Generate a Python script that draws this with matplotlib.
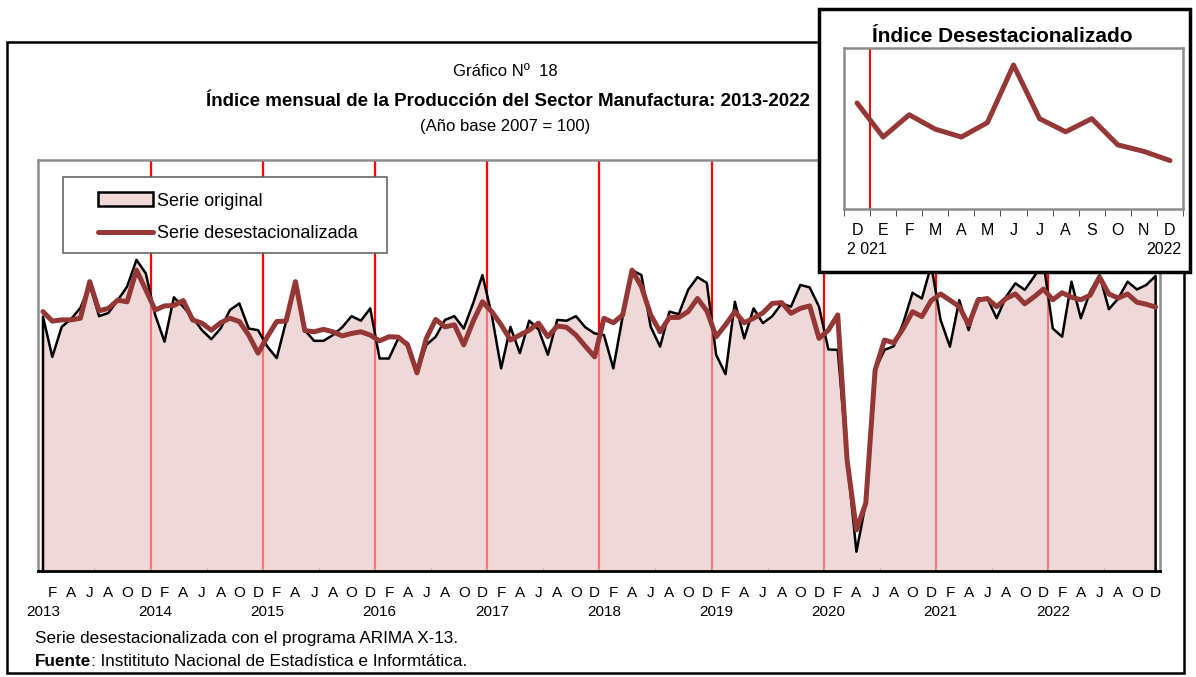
import matplotlib
matplotlib.use("Agg")
import matplotlib.pyplot as plt
import matplotlib.transforms as mtransforms
from matplotlib import font_manager
from matplotlib.patches import Rectangle, Patch
from matplotlib.lines import Line2D
import numpy as np

# monthly index, Jan 2013 .. Dec 2022
original = [
    101.9, 92.1, 99.4, 101.3, 104.0, 109.6, 102.0, 102.8, 105.9, 109.2, 115.7, 112.4,
    102.3, 95.8, 106.6, 104.3, 101.7, 98.6, 96.4, 99.0, 103.5, 105.1, 99.0, 98.6,
    94.6, 91.8, 100.7, 110.4, 98.6, 96.0, 96.0, 97.4, 99.3, 102.0, 100.9, 103.9,
    91.7, 91.7, 96.6, 95.5, 88.1, 95.0, 97.0, 101.1, 102.0, 99.0, 105.1, 112.0,
    102.3, 89.3, 99.4, 93.0, 100.9, 98.8, 92.6, 101.1, 100.9, 102.0, 99.3, 97.8,
    97.4, 89.3, 101.9, 113.2, 112.0, 99.4, 94.6, 103.1, 102.5, 108.4, 111.5, 110.1,
    92.6, 87.9, 105.5, 96.6, 103.9, 100.3, 102.0, 105.1, 104.3, 109.6, 109.0, 104.3,
    93.9, 93.8, 67.0, 44.7, 56.5, 88.9, 93.8, 94.7, 100.3, 107.7, 106.3, 114.4,
    101.1, 94.6, 105.9, 98.6, 106.3, 106.3, 101.5, 106.7, 110.0, 108.4, 111.6, 115.2,
    99.0, 97.0, 110.4, 101.5, 108.0, 112.0, 103.7, 106.3, 110.4, 108.5, 109.6, 111.8,
]
desest = [
    103.1, 100.8, 101.1, 101.1, 101.5, 110.4, 103.3, 103.9, 105.9, 105.5, 113.2, 108.4,
    103.5, 104.5, 104.6, 105.8, 101.1, 100.3, 98.6, 100.4, 101.5, 100.7, 97.4, 93.0,
    97.0, 100.7, 100.8, 110.4, 98.5, 98.2, 98.8, 98.2, 97.2, 97.8, 98.2, 97.4,
    96.0, 97.0, 96.9, 95.0, 88.2, 96.6, 101.2, 99.4, 99.9, 95.0, 100.7, 105.5,
    103.1, 99.9, 96.2, 97.4, 98.6, 100.3, 97.0, 99.6, 99.3, 97.4, 94.7, 92.1,
    101.5, 100.4, 102.3, 113.2, 109.2, 102.3, 98.2, 101.7, 101.7, 103.1, 106.3, 103.3,
    97.0, 99.9, 103.1, 100.4, 101.5, 102.8, 105.1, 105.3, 102.7, 103.9, 104.5, 96.6,
    98.6, 102.3, 67.0, 50.0, 56.5, 88.9, 96.2, 95.5, 99.0, 103.1, 101.9, 105.8,
    107.4, 105.9, 104.3, 99.9, 105.9, 106.3, 104.3, 106.3, 107.4, 105.0, 106.7, 108.6,
    106.0, 107.7, 106.6, 106.0, 107.1, 111.5, 107.4, 106.4, 107.4, 105.4, 104.9, 104.2,
]
years = list(range(2013, 2023))
month_letters = ["F", "A", "J", "A", "O", "D"]
inset_months = ["D", "E", "F", "M", "A", "M", "J", "J", "A", "S", "O", "N", "D"]

W, H = 1196, 677
DARK_RED = "#953735"
FILL = "#e6c2c0"

available = {f.name for f in font_manager.fontManager.ttflist}
SANS = "Liberation Sans"
NARROW = "Liberation Sans Narrow" if "Liberation Sans Narrow" in available else SANS
plt.rcParams["font.family"] = [SANS, "DejaVu Sans"]


def fx(px):
    return px / W


def fy(py):
    return 1 - py / H


fig = plt.figure(figsize=(W / 100, H / 100), dpi=100)

# outer frame of the whole chart
fig.patches.append(Rectangle((fx(7), fy(673)), fx(1184) - fx(7), fy(42) - fy(673),
                             transform=fig.transFigure, fill=False, ec="black", lw=1.8, zorder=0))

fig.text(fx(505), fy(72), "Gráfico Nº  18", ha="center", va="center", fontsize=12)
fig.text(fx(508), fy(101), "Índice mensual de la Producción del Sector Manufactura: 2013-2022",
         ha="center", va="center", fontsize=13.5, fontweight="bold", family=NARROW)
fig.text(fx(505), fy(126), "(Año base 2007 = 100)", ha="center", va="center", fontsize=12)

# main chart
ax = fig.add_axes([fx(38.3), fy(571), fx(1160.3) - fx(38.3), fy(160) - fy(571)])
x = np.arange(len(original))
ax.set_xlim(-0.5, len(original) - 0.5)
ax.set_ylim(40, 140)

for k in range(1, len(years)):
    ax.axvline(12 * k - 0.5, color="red", lw=1.6, zorder=1)

ax.fill_between(x, 40, original, color=FILL, alpha=0.62, lw=0, zorder=2)
ax.plot(np.r_[x[0], x, x[-1]], np.r_[40, original, 40], color="black", lw=1.8, zorder=3)
ax.plot(x, desest, color=DARK_RED, lw=3.6, solid_capstyle="round", zorder=4)

for side in ["top", "left", "right"]:
    ax.spines[side].set_color("#8c8c8c")
    ax.spines[side].set_linewidth(1.8)
ax.spines["bottom"].set_color("black")
ax.spines["bottom"].set_linewidth(2)
ax.set_yticks([])

tick_pos, tick_lab = [], []
for k in range(len(years)):
    for j, m in enumerate(month_letters):
        tick_pos.append(12 * k + 1 + 2 * j)
        tick_lab.append(m)
ax.set_xticks(tick_pos, tick_lab, family=NARROW, fontsize=11)
ax.tick_params(axis="x", which="major", length=0, pad=11)
ax.set_xticks(np.arange(5.5, len(original), 6), minor=True)
ax.tick_params(axis="x", which="minor", direction="in", length=3, color="#8c8c8c")

trans = mtransforms.blended_transform_factory(ax.transData, ax.transAxes)
for k, yr in enumerate(years):
    ax.text(12 * k, -0.1, str(yr), transform=trans, ha="center", va="center",
            family=NARROW, fontsize=11)

# legend
fig.patches.append(Rectangle((fx(63), fy(253)), fx(387) - fx(63), fy(177) - fy(253),
                             transform=fig.transFigure, fc="white", ec="#666666", lw=1.2, zorder=5))
handles = [Patch(facecolor="#f0d9d8", edgecolor="black", lw=1.8),
           Line2D([], [], color=DARK_RED, lw=3.6, solid_capstyle="round")]
leg = fig.legend(handles, ["Serie original", "Serie desestacionalizada"],
                 loc="upper left", bbox_to_anchor=(fx(84), fy(178)), bbox_transform=fig.transFigure,
                 frameon=False, prop={"family": NARROW, "size": 13},
                 handlelength=3.0, handleheight=0.8, handletextpad=0.25, labelspacing=0.85,
                 borderpad=0.3)
leg.set_zorder(6)

# inset with the last 13 months of the adjusted series
fig.patches.append(Rectangle((fx(819), fy(272)), fx(1190) - fx(819), fy(9) - fy(272),
                             transform=fig.transFigure, fc="white", ec="black", lw=2.5, zorder=7))
fig.text(fx(1002), fy(37), "Índice Desestacionalizado", ha="center", va="center",
         fontsize=15, fontweight="bold", zorder=8)

ins = fig.add_axes([fx(844), fy(209), fx(1183) - fx(844), fy(48) - fy(209)], zorder=9)
last = desest[-13:]
xi = np.arange(len(last))
ins.set_xlim(-0.5, len(last) - 0.5)
ins.set_ylim(100.5, 112.8)
ins.axvline(0.5, color="red", lw=1.4)
ins.plot(xi, last, color=DARK_RED, lw=3.6, solid_capstyle="round")
for s in ins.spines.values():
    s.set_color("#8c8c8c")
    s.set_linewidth(1.8)
ins.set_yticks([])
ins.set_xticks(xi, inset_months, fontsize=11.5)
ins.tick_params(axis="x", which="major", length=0, pad=10)
ins.set_xticks(np.arange(-0.5, len(last), 1), minor=True)
ins.tick_params(axis="x", which="minor", direction="out", length=5, color="#333333")
ins_trans = mtransforms.blended_transform_factory(ins.transData, ins.transAxes)
ins.text(-0.4, -0.25, "2 021", transform=ins_trans, ha="left", va="center", fontsize=11.5)
ins.text(12.45, -0.25, "2022", transform=ins_trans, ha="right", va="center", fontsize=11.5)

# notes under the chart
fig.text(fx(35), fy(638), "Serie desestacionalizada con el programa ARIMA X-13.",
         ha="left", va="center", fontsize=12.3)
src = fig.text(fx(35), fy(661), "Fuente", ha="left", va="center", fontsize=12.3, fontweight="bold")
fig.add_artist(plt.Annotation(": Institituto Nacional de Estadística e Informtática.",
                              xy=(1, 0.5), xycoords=src, ha="left", va="center", fontsize=12.3))

fig.savefig("out.png", dpi=100)
